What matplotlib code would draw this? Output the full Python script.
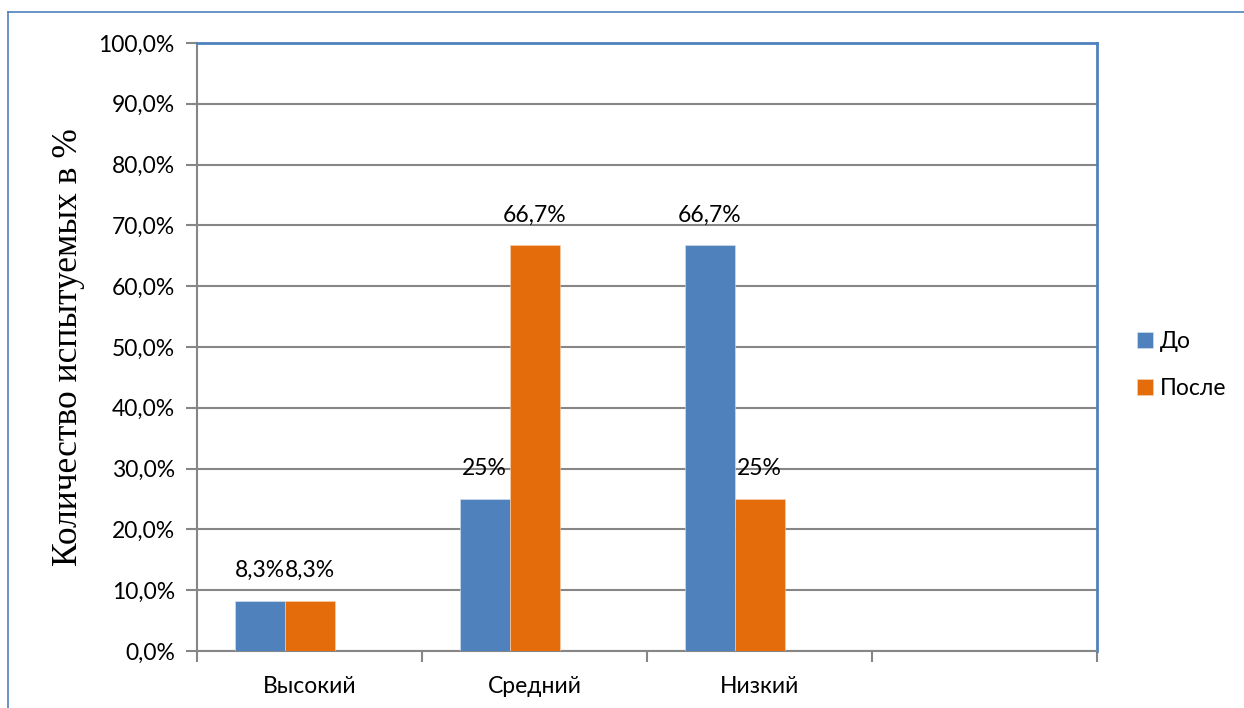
import matplotlib.pyplot as plt
import matplotlib.ticker as mticker
from matplotlib.lines import Line2D
import numpy as np

# --- Dados ---
categorias = ['Высокий', 'Средний', 'Низкий']
antes = [8.3, 25, 66.7]
depois = [8.3, 66.7, 25]
rotulos_antes = ['8,3%', '25%', '66,7%']
rotulos_depois = ['8,3%', '66,7%', '25%']
series = ['До', 'После']
y_ticks = [0, 10, 20, 30, 40, 50, 60, 70, 80, 90, 100]

# --- Estilo ---
cor_azul = '#4F81BD'
cor_laranja = '#E46C0A'
cor_grade = '#868686'
plt.rcParams['font.family'] = ['Lato', 'DejaVu Sans']
fs = 16.5

fig = plt.figure(figsize=(12.44, 7.08), dpi=100)
ax = fig.add_axes([197 / 1244, 57 / 708, 900 / 1244, 608 / 708])

# três posições por categoria (a terceira fica vazia)
x = np.arange(len(categorias))
w = 50 / 225
b1 = ax.bar(x - w, antes, w, color=cor_azul, edgecolor='#d9e2ef', linewidth=0.4, label=series[0], zorder=3)
b2 = ax.bar(x, depois, w, color=cor_laranja, edgecolor='#f6d2b8', linewidth=0.4, label=series[1], zorder=3)

for barras, rotulos in ((b1, rotulos_antes), (b2, rotulos_depois)):
    for barra, txt in zip(barras, rotulos):
        ax.annotate(txt, (barra.get_x() + barra.get_width() / 2, barra.get_height()),
                    xytext=(0, 20), textcoords='offset pixels',
                    ha='center', va='bottom', fontsize=fs, color='black', zorder=4)

ax.set_xlim(-0.5, 3.5)
ax.set_ylim(0, 100)
ax.set_yticks(y_ticks)
ax.yaxis.set_major_formatter(mticker.FuncFormatter(lambda v, p: f'{v:.1f}%'.replace('.', ',')))
ax.set_xticks([-0.5, 0.5, 1.5, 2.5, 3.5])
ax.set_xticklabels([])
ax.set_xticks(x, minor=True)
ax.set_xticklabels(categorias, minor=True, fontsize=fs)
ax.tick_params(axis='x', which='minor', length=0, pad=18)
ax.tick_params(axis='x', which='major', length=8, width=1.5, color=cor_grade, direction='out')
ax.tick_params(axis='y', length=8, width=1.5, color=cor_grade, labelsize=fs, pad=8)

ax.grid(axis='y', color=cor_grade, linewidth=1.5, zorder=0)
ax.set_axisbelow(True)
for lado in ('left', 'bottom'):
    ax.spines[lado].set_color(cor_grade)
    ax.spines[lado].set_linewidth(1.5)
for lado in ('top', 'right'):
    ax.spines[lado].set_color(cor_azul)
    ax.spines[lado].set_linewidth(2)

ax.set_ylabel('Количество испытуемых в %', family=['Liberation Serif'], fontsize=25.5, labelpad=10)

ax.legend(loc='center left', bbox_to_anchor=(1.022, 0.47), frameon=False, fontsize=fs,
          handlelength=0.7, handleheight=0.7, handletextpad=0.3, labelspacing=1.15)

# moldura externa
fig.add_artist(Line2D([8 / 1244, 8 / 1244], [0, 1 - 12 / 708], color=cor_azul, linewidth=1.2, transform=fig.transFigure))
fig.add_artist(Line2D([8 / 1244, 1], [1 - 12 / 708, 1 - 12 / 708], color=cor_azul, linewidth=1.2, transform=fig.transFigure))

fig.savefig('out.png', dpi=100)
